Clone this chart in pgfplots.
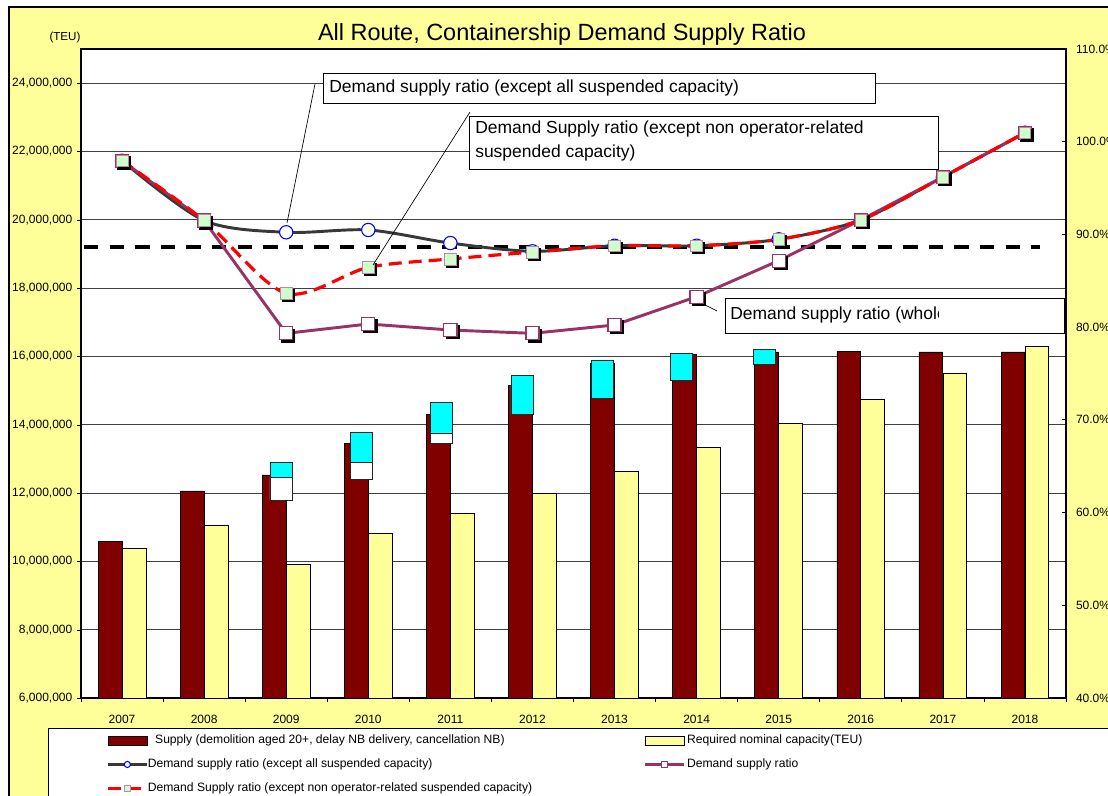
\documentclass[border=0pt]{standalone}
\usepackage{fontspec}
\setmainfont{Liberation Sans}
\usepackage{pgfplots}
\usepackage{pgfplotstable}
\pgfplotsset{compat=1.18}
\definecolor{bgyellow}{HTML}{FFFF99}
\definecolor{baryellow}{HTML}{FFFF99}
\definecolor{barmaroon}{HTML}{800000}
\definecolor{plum}{HTML}{993366}
\definecolor{mint}{HTML}{CCFFCC}
\definecolor{darkline}{HTML}{383838}
\definecolor{boxcyan}{HTML}{00FFFF}

\pgfplotstableread{
x supply req
0 10570000 10390000
1 12060000 11040000
2 12530000 9920000
3 13450000 10820000
4 14310000 11410000
5 15140000 11990000
6 15800000 12640000
7 16050000 13340000
8 16130000 14050000
9 16140000 14750000
10 16130000 15490000
11 16130000 16280000
}\bars

\pgfplotstableread{
x base white cyan
1.936 11790000 670000 440000
2.917 12400000 500000 880000
3.889 13460000 300000 890000
4.872 14290000 0 1140000
5.846 14780000 0 1090000
6.817 15310000 0 780000
7.825 15770000 0 440000
}\boxes

\pgfplotstableread{
x a b c
0 97.95 97.95 97.95
1 91.50 91.50 91.50
2 90.23 83.65 79.33
3 90.48 86.45 80.34
4 89.07 87.35 79.69
5 88.18 88.10 79.33
6 88.78 88.78 80.23
7 88.78 88.78 83.28
8 89.47 89.47 87.17
9 91.56 91.56 91.56
10 96.19 96.19 96.19
11 100.97 100.97 100.97
}\ratios

\begin{document}
\begin{tikzpicture}
% chart area background and frame
\fill[white] (0pt,0pt) rectangle (831pt,597pt);
\fill[bgyellow] (6.75pt,-20pt) rectangle (860pt,591.75pt);
\draw[line width=1.1pt] (6.75pt,-20pt) |- (860pt,591.75pt);

% title and unit
\node[font=\fontsize{17.6}{20}\selectfont] at (421.5pt,571pt) {All Route, Containership Demand Supply Ratio};
\node[font=\fontsize{8.7}{10}\selectfont] at (48.75pt,568.5pt) {(TEU)};

% ---------- left axis with bars ----------
\begin{axis}[
  at={(60.75pt,73.5pt)}, anchor=south west,
  width=738.75pt, height=486.75pt, scale only axis,
  axis background/.style={fill=white},
  xmin=-0.5, xmax=11.5, ymin=6000000, ymax=25000000,
  xtick={0,...,11},
  xticklabels={2007,2008,2009,2010,2011,2012,2013,2014,2015,2016,2017,2018},
  minor xtick={-0.5,0.5,...,11.5},
  major x tick style={draw=none},
  minor x tick style={black, line width=0.6pt},
  minor tick length=3pt,
  ytick={6000000,8000000,...,24000000},
  ytick pos=left, xtick pos=bottom,
  tick align=outside, major tick length=3pt,
  ymajorgrids,
  major grid style={black!75, line width=0.6pt},
  scaled y ticks=false,
  /pgf/number format/assume math mode=true,
  yticklabel style={/pgf/number format/.cd, fixed, precision=0, 1000 sep={,}},
  tick label style={font=\fontsize{9}{10.8}\selectfont, black},
  xticklabel style={yshift=-6pt},
  axis line style={black, line width=0.8pt},
  tick style={black},
]
\addplot[ybar, bar width=0.29, bar shift=-0.146, fill=barmaroon, draw=black, line width=0.6pt] table[x=x, y=supply] {\bars};
\addplot[ybar, bar width=0.29, bar shift=0.146, fill=baryellow, draw=black, line width=0.6pt] table[x=x, y=req] {\bars};
\end{axis}

% ---------- overlay axis with suspended-capacity boxes ----------
\begin{axis}[
  at={(60.75pt,73.5pt)}, anchor=south west,
  width=738.75pt, height=486.75pt, scale only axis,
  xmin=-0.5, xmax=11.5, ymin=6000000, ymax=25000000,
  hide axis, ybar stacked, bar width=0.268,
]
\addplot[draw=none, fill=none] table[x=x, y=base] {\boxes};
\addplot[fill=white, draw=black!85, line width=0.6pt] table[x=x, y=white] {\boxes};
\addplot[fill=boxcyan, draw=black!85, line width=0.6pt] table[x=x, y=cyan] {\boxes};
\end{axis}

% legend background box
\draw[fill=white, draw=black, line width=0.6pt] (36pt,-20pt) rectangle (860pt,51pt);

% ---------- right axis with ratio lines ----------
\begin{axis}[
  at={(60.75pt,73.5pt)}, anchor=south west,
  width=738.75pt, height=486.75pt, scale only axis,
  xmin=-0.5, xmax=11.5, ymin=40, ymax=110,
  axis y line*=right, axis x line=none,
  ytick={40,50,...,110},
  tick align=inside, major tick length=3pt,
  /pgf/number format/assume math mode=true,
  yticklabel={\pgfmathprintnumber[fixed,fixed zerofill,precision=1]{\tick}\%},
  yticklabel style={font=\fontsize{9}{10.8}\selectfont, xshift=4pt},
  axis line style={black, line width=0.8pt},
  tick style={black, line width=0.6pt},
  clip=false,
  legend columns=2,
  legend cell align=left,
  legend image code/.code={\draw[mark repeat=2,mark phase=2,#1] plot coordinates {(0pt,0pt)(14.6pt,0pt)(29.25pt,0pt)};},
  every legend image post/.style={mark size=2.3pt},
  legend style={at={(0.0254,-0.0528)}, anchor=north west, draw=none, fill=none,
    font=\fontsize{9.1}{10}\selectfont, row sep=5.8pt, inner sep=0pt,
    /tikz/every odd column/.append style={column sep=3pt}},
]
\addlegendimage{legend image code/.code={\draw[fill=barmaroon,draw=black,line width=0.5pt] (0pt,-3.2pt) rectangle (29.25pt,3.2pt);}}
\addlegendentry{\makebox[364.5pt][l]{Supply (demolition aged 20+, delay NB delivery, cancellation NB)}}
\addlegendimage{legend image code/.code={\draw[fill=baryellow,draw=black,line width=0.5pt] (0pt,-3.2pt) rectangle (29.25pt,3.2pt);}}
\addlegendentry{\hspace*{-4pt}Required nominal capacity(TEU)}

% black dashed reference line
\addplot[forget plot, black, line width=3pt, dash pattern=on 10.7pt off 8.5pt] coordinates {(-0.463,88.64) (11.18,88.64)};

% A: except all suspended capacity
\addplot[darkline, line width=2.2pt, smooth, mark=*, mark size=5pt,
  mark options={fill=white, draw=blue, line width=0.8pt}] table[x=x, y=a] {\ratios};
\addlegendentry{\makebox[364.5pt][l]{\hspace*{-5.5pt}Demand supply ratio (except all suspended capacity)}}

% C: demand supply ratio (whole)
\addplot[forget plot, only marks, mark=square*, mark size=4.9pt, mark options={black, fill=black, xshift=1.5pt, yshift=-1.5pt}] table[x=x, y=c] {\ratios};
\addplot[plum, line width=2.2pt, mark=square*, mark size=4.9pt,
  mark options={fill=white, draw=plum, line width=0.9pt}] table[x=x, y=c] {\ratios};
\addlegendentry{\hspace*{-4pt}Demand supply ratio}

% B: except non operator-related suspended capacity
\addplot[forget plot, only marks, mark=square*, mark size=4.4pt, mark options={black, fill=black, xshift=1.5pt, yshift=-1.5pt}] table[x=x, y=b] {\ratios};
\addplot[red, line width=2.4pt, smooth, dash pattern=on 9.75pt off 5.25pt, mark=square*, mark size=4.4pt,
  mark options={solid, fill=mint, draw=plum!60, line width=0.5pt}] table[x=x, y=b] {\ratios};
\addlegendentry{\hspace*{-5.5pt}Demand Supply ratio (except non operator-related suspended capacity)}
\end{axis}

% ---------- callout annotations ----------
\draw[black, line width=0.5pt] (236.25pt,534pt) -- (215.25pt,429.75pt);
\draw[black, line width=0.5pt] (352.5pt,513pt) -- (279.75pt,398.25pt);
\draw[black, line width=0.5pt] (537.75pt,363.75pt) -- (528.75pt,368.25pt);

\draw[fill=white, draw=black, line width=0.6pt] (242.25pt,519.75pt) rectangle (656.25pt,542.25pt);
\node[anchor=west, inner sep=0pt, font=\fontsize{13.1}{15}\selectfont] at (246.75pt,531pt) {Demand supply ratio (except all suspended capacity)};

\draw[fill=white, draw=black, line width=0.6pt] (351.75pt,470.25pt) rectangle (703.5pt,510pt);
\node[anchor=west, inner sep=0pt, font=\fontsize{13.1}{15}\selectfont] at (356.25pt,500.25pt) {Demand Supply ratio (except non operator-related};
\node[anchor=west, inner sep=0pt, font=\fontsize{13.1}{15}\selectfont] at (356.25pt,482.25pt) {suspended capacity)};

\draw[fill=white, draw=black, line width=0.6pt] (543.75pt,347.25pt) rectangle (798pt,373.5pt);
\begin{scope}
\clip (544pt,348pt) rectangle (703.5pt,373pt);
\node[anchor=west, inner sep=0pt, font=\fontsize{13.1}{15}\selectfont] at (547.5pt,360.5pt) {Demand supply ratio (whole};
\end{scope}

\pgfresetboundingbox
\useasboundingbox (0pt,0pt) rectangle (831pt,597pt);
\end{tikzpicture}
\end{document}
